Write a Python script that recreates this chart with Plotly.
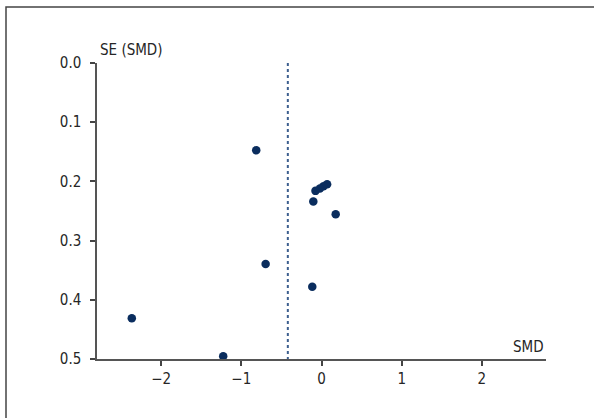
import plotly.graph_objects as go

# Data
smd = [-0.814, -2.366, -1.226, -0.697, 0.070, 0.025, -0.020, -0.075, -0.102, 0.177, -0.115]
se_smd = [0.1475, 0.431, 0.4954, 0.3395, 0.205, 0.208, 0.212, 0.216, 0.234, 0.2556, 0.378]
pooled_smd = -0.42
x_ticks = [-2, -1, 0, 1, 2]
x_tick_labels = ["\u22122", "\u22121", "0", "1", "2"]
y_ticks = [0.0, 0.1, 0.2, 0.3, 0.4, 0.5]
y_tick_labels = ["0.0", "0.1", "0.2", "0.3", "0.4", "0.5"]

FONT = "DejaVu Sans Condensed, Liberation Sans Narrow, sans-serif"
TXT = "#262626"

fig = go.Figure()
fig.add_trace(go.Scatter(
    x=[pooled_smd, pooled_smd], y=[0.0, 0.5], mode="lines",
    line=dict(color="#3d5f8f", width=2, dash="dot"),
    hoverinfo="skip", showlegend=False))
fig.add_trace(go.Scatter(
    x=smd, y=se_smd, mode="markers",
    marker=dict(color="#0a2d5e", size=8.5, line=dict(width=0)),
    showlegend=False))

L, R, T, B = 97, 48, 63, 59
W, H = 594, 418
pw, ph = W - L - R, H - T - B

fig.update_layout(
    width=W, height=H,
    margin=dict(l=L, r=R, t=T, b=B),
    paper_bgcolor="white", plot_bgcolor="white",
    font=dict(family=FONT, size=15, color=TXT),
    xaxis=dict(range=[-2.8, 2.8], tickvals=x_ticks, ticktext=x_tick_labels,
               showgrid=False, zeroline=False, showline=True,
               linecolor="#555555", linewidth=1.5,
               ticks="outside", ticklen=5, tickwidth=1.5, tickcolor="#444444",
               tickfont=dict(family=FONT, size=15, color=TXT)),
    yaxis=dict(range=[0.5, 0.0], tickvals=y_ticks, ticktext=y_tick_labels,
               showgrid=False, zeroline=False, showline=True,
               linecolor="#555555", linewidth=1.5,
               ticks="outside", ticklen=5, tickwidth=1.5, tickcolor="#444444",
               ticklabelstandoff=6,
               tickfont=dict(family=FONT, size=15, color=TXT)),
    annotations=[
        dict(text="SE (SMD)", xref="paper", yref="paper", x=0.0, y=1.0,
             xanchor="left", yanchor="bottom", yshift=2, xshift=1, showarrow=False,
             font=dict(family=FONT, size=15, color=TXT)),
        dict(text="SMD", xref="paper", yref="paper", x=1.0, y=0.0,
             xanchor="right", yanchor="bottom", yshift=1, showarrow=False,
             font=dict(family=FONT, size=15, color=TXT)),
    ],
    shapes=[dict(type="rect", xref="paper", yref="paper",
                 x0=(6 - L) / pw, x1=(W + 10 - L) / pw,
                 y0=(H - B - (H + 10)) / ph, y1=1 + (T - 7) / ph,
                 line=dict(color="#444444", width=1.5), fillcolor="rgba(0,0,0,0)",
                 layer="below")],
)

fig.write_html("out.html")
